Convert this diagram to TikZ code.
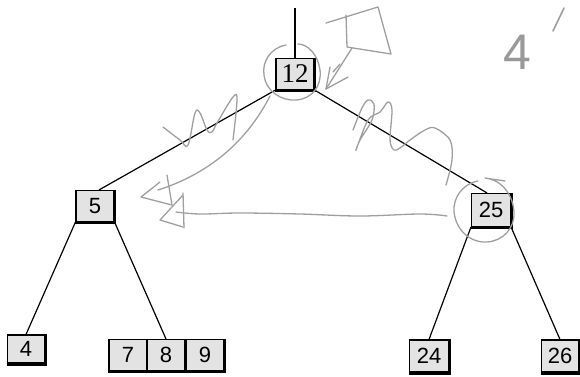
\documentclass[tikz,border=0pt]{standalone}
\usepackage{fontspec}
\setmainfont{Liberation Sans}
\newfontfamily\serifnum{Liberation Serif}
\usetikzlibrary{calc}
\begin{document}
\begin{tikzpicture}[x=1pt,y=-1pt,
  keybox/.style={draw=black, fill=gray!22, line width=1.1pt, inner sep=0pt,
     minimum width=38pt, minimum height=31pt, font=\fontsize{22}{22}\selectfont},
  edge/.style={line width=1.2pt, black},
  hand/.style={draw=gray!75, line width=1.3pt, line cap=round, line join=round}]
\useasboundingbox (0,0) rectangle (580,376);

% nodes
\node[keybox, font=\serifnum\fontsize{27}{27}\selectfont] (n12) at (295,74) {12};
\node[keybox] (n5) at (95,206) {5};
\node[keybox, minimum width=39pt, minimum height=33pt] (n25) at (491,210) {25};
\node[keybox, minimum width=37pt, minimum height=28pt] (n4) at (26,349) {4};
\node[keybox, minimum height=31pt] (n7) at (128,355) {7};
\node[keybox, minimum height=31pt] (n8) at (166,355) {8};
\node[keybox, minimum height=31pt] (n9) at (205,355) {9};
\node[keybox, minimum width=39pt, minimum height=32pt] (n24) at (429,356) {24};
\node[keybox, minimum width=37pt, minimum height=32pt] (n26) at (560,356) {26};

% thick bottom and right edges
\foreach \n in {n12,n5,n25,n4,n9,n24,n26}
  \draw[line width=2.4pt] ([yshift=-1pt]\n.south west) -- ([xshift=0.6pt,yshift=-1pt]\n.south east) -- ([xshift=0.6pt]\n.north east);
\foreach \n in {n7,n8}
  \draw[line width=2.4pt] ([yshift=-1pt]\n.south west) -- ([yshift=-1pt]\n.south east);

% tree edges
\coordinate (top) at (295,8);
\draw[edge] (top) -- (n12.north);
\draw[edge] (n12.south west) -- ([xshift=4pt]n5.north);
\draw[edge] (n12.south east) -- ([xshift=-4pt]n25.north);
\draw[edge] (n5.south west) -- (n4.north);
\draw[edge] (n5.south east) -- (n8.north);
\draw[edge] (n25.south west) -- (n24.north);
\draw[edge] (n25.south east) -- (n26.north);

% hand-drawn annotations
\draw[hand] (286,45) .. controls (270,48) and (262,62) .. (264,75)
  .. controls (266,92) and (282,101) .. (296,100)
  .. controls (312,99) and (322,86) .. (320,70)
  .. controls (318,55) and (308,44) .. (298,44);
\draw[hand] (478,181) .. controls (462,184) and (453,198) .. (454,212)
  .. controls (456,230) and (470,243) .. (487,242)
  .. controls (503,241) and (515,228) .. (514,212)
  .. controls (513,196) and (503,180) .. (485,178) -- (505,181);

% square with arrow at top
\draw[hand] (326,23) -- (378,7) -- (391,54) -- (347,47) -- (346,15);
\draw[hand] (352,48) -- (326,89);
\draw[hand] (330,67) -- (326,89) -- (348,77);
\draw[hand] (333,72) -- (340,64);

% squiggle on left edge
\draw[hand] plot[smooth, tension=0.6] coordinates {(163,127) (180,140) (188,145) (195,113) (200,113) (207,130) (212,132) (217,123) (233,97) (237,100) (233,140)};
% curved arrow towards 5
\draw[hand] (270,96) .. controls (245,145) and (205,175) .. (158,190);
\draw[hand] (160,182) -- (141,197) -- (172,205);
\draw[hand] (167,175) -- (172,205);

% squiggle on right edge
\draw[hand] plot[smooth, tension=0.55] coordinates {(353,130) (362,108) (368,100) (374,104) (372,120) (360,140) (356,150) (368,120) (380,112) (388,102) (392,110) (390,140) (394,150) (400,148) (410,140) (425,130) (435,128) (450,140) (452,160) (446,185)};

% long arrow from 25 to 5
\draw[hand] plot[smooth, tension=0.6] coordinates {(447,216) (420,214) (360,216) (300,214) (240,213) (200,214) (176,212)};
\draw[hand] (183,195) -- (160,220) -- (183,227);
\draw[hand] (183,193) -- (184,228);

% 4'
\node[text=gray!80, font=\fontsize{50}{50}\selectfont, inner sep=0pt] (four) at (517,52) {4};
\draw[hand, line width=1.6pt] (553,31) -- (564,8);
\end{tikzpicture}
\end{document}
